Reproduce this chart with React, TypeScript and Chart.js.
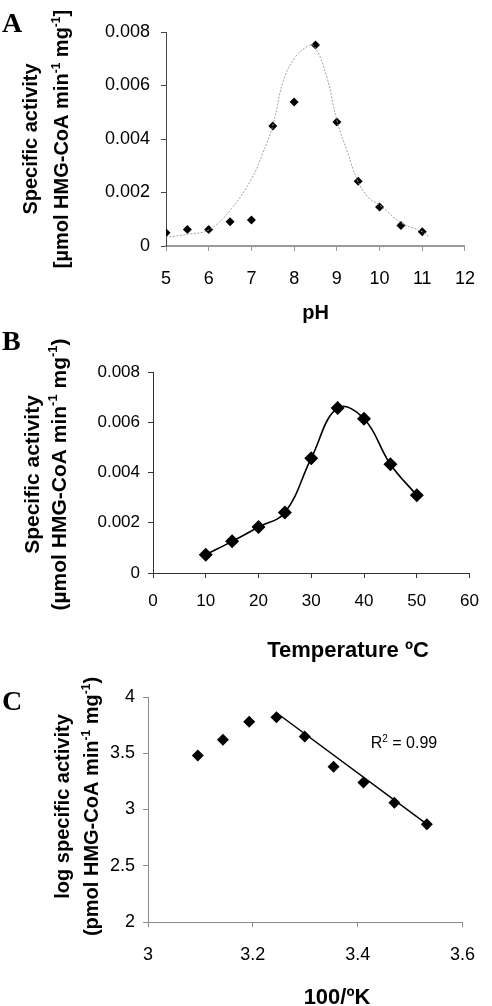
import React, { useEffect, useRef } from "react";
import { Chart, registerables } from "chart.js";

Chart.register(...registerables);

// ---------- Panel A: pH ----------
const phValues = [5, 5.5, 6, 6.5, 7, 7.5, 8, 8.5, 9, 9.5, 10, 10.5, 11];
const phActivity = [0.0005, 0.00062, 0.00062, 0.00091, 0.00097, 0.00449, 0.00538, 0.00751, 0.00464, 0.00242, 0.00146, 0.00077, 0.00053];
const phFitX = [5, 5.5, 6, 6.5, 7, 7.25, 7.5, 7.75, 8, 8.25, 8.45, 8.75, 9, 9.25, 9.5, 9.75, 10, 10.5, 11, 11.15];
const phFitY = [0.00032, 0.00044, 0.0006, 0.00133, 0.0025, 0.0034, 0.0045, 0.0062, 0.007, 0.0074, 0.0075, 0.0064, 0.0047, 0.0035, 0.0024, 0.0018, 0.00153, 0.00087, 0.00053, 0.00035];
const phTicksX = ["5", "6", "7", "8", "9", "10", "11", "12"];
const activityTicks = ["0", "0.002", "0.004", "0.006", "0.008"];

// ---------- Panel B: temperature ----------
const temperatures = [10, 15, 20, 25, 30, 35, 40, 45, 50];
const tempActivity = [0.00073, 0.00126, 0.00183, 0.00241, 0.00457, 0.00657, 0.00614, 0.00433, 0.00309];
const tempTicksX = ["0", "10", "20", "30", "40", "50", "60"];

// ---------- Panel C: Arrhenius ----------
const invTemp = [3.095, 3.143, 3.193, 3.245, 3.299, 3.354, 3.411, 3.47, 3.532];
const logActivity = [3.48, 3.62, 3.78, 3.82, 3.65, 3.38, 3.24, 3.06, 2.87];
const regressionX = [3.245, 3.532];
const regressionY = [3.86, 2.87];
const invTempTicks = ["3", "3.2", "3.4", "3.6"];
const logTicks = ["2", "2.5", "3", "3.5", "4"];
const rSquaredLabel = "0.99";

const SANS = '"Liberation Sans", Arial, Helvetica, sans-serif';
const SERIF = '"Liberation Serif", "Times New Roman", serif';

type Seg = { t: string; sup?: boolean };
type TextItem = {
  segs: Seg[];
  x: number | ((c: any) => number);
  y: number | ((c: any) => number);
  size: number;
  bold?: boolean;
  rotate?: boolean;
  align?: "left" | "center";
  family?: string;
  baseline?: boolean; // y is baseline
};

function drawItem(ctx: CanvasRenderingContext2D, chart: any, it: TextItem) {
  const fam = it.family || SANS;
  const w8 = it.bold ? "bold " : "";
  const main = `${w8}${it.size}px ${fam}`;
  const sup = `${w8}${Math.round(it.size * 0.62)}px ${fam}`;
  const x = typeof it.x === "function" ? it.x(chart) : it.x;
  const y = typeof it.y === "function" ? it.y(chart) : it.y;
  ctx.save();
  let w = 0;
  for (const s of it.segs) {
    ctx.font = s.sup ? sup : main;
    w += ctx.measureText(s.t).width;
  }
  ctx.translate(x, y);
  if (it.rotate) ctx.rotate(-Math.PI / 2);
  ctx.textBaseline = "alphabetic";
  ctx.textAlign = "left";
  ctx.fillStyle = "#000";
  let cx = it.align === "left" ? 0 : -w / 2;
  const base = it.baseline ? 0 : it.size * 0.3;
  for (const s of it.segs) {
    ctx.font = s.sup ? sup : main;
    ctx.fillText(s.t, cx, s.sup ? base - it.size * 0.42 : base);
    cx += ctx.measureText(s.t).width;
  }
  ctx.restore();
}

function overlay(id: string, items: TextItem[]) {
  return {
    id,
    afterDraw(chart: any) {
      for (const it of items) drawItem(chart.ctx, chart, it);
    },
  };
}

function unitSegs(prefix: string, open: string, close: string): Seg[] {
  return [
    { t: `${open}${prefix} HMG-CoA min` },
    { t: "-1", sup: true },
    { t: " mg" },
    { t: "-1", sup: true },
    { t: close },
  ];
}

function axisStyle(color: string, width: number, tickColor: string) {
  return {
    grid: { drawOnChartArea: false, drawTicks: true, tickLength: 5, color: tickColor, tickColor, lineWidth: 1 },
    border: { display: true, color, width },
  };
}

function labelFrom(list: string[], min: number, step: number) {
  return (v: any) => {
    const i = Math.round((Number(v) - min) / step);
    return list[i] !== undefined ? list[i] : "";
  };
}

function buildA(): any {
  const cA = (c: any) => (c.chartArea.top + c.chartArea.bottom) / 2;
  return {
    type: "line",
    data: {
      datasets: [
        {
          label: "fit",
          data: phFitX.map((x, i) => ({ x, y: phFitY[i] })),
          borderColor: "#a0a0a0",
          borderWidth: 1,
          borderDash: [2, 1.5],
          pointRadius: 0,
          tension: 0.4,
          fill: false,
        },
        {
          label: "pH",
          data: phValues.map((x, i) => ({ x, y: phActivity[i] })),
          showLine: false,
          pointStyle: "rectRot",
          pointRadius: 4.5,
          pointBackgroundColor: "#000",
          pointBorderColor: "#000",
          pointBorderWidth: 0,
        },
      ],
    },
    options: {
      animation: false,
      responsive: false,
      devicePixelRatio: 1,
      layout: { padding: { left: 0, right: 12, top: 32, bottom: 0 } },
      plugins: { legend: { display: false }, tooltip: { enabled: false } },
      scales: {
        x: {
          type: "linear",
          min: 5,
          max: 12,
          ...axisStyle("#9a9a9a", 2, "#9a9a9a"),
          ticks: { stepSize: 1, padding: 17, color: "#000", font: { family: SANS, size: 18 }, maxRotation: 0, callback: labelFrom(phTicksX, 5, 1) },
          afterFit: (s: any) => { s.height = 84; },
        },
        y: {
          type: "linear",
          min: 0,
          max: 0.008,
          ...axisStyle("#444", 1, "#444"),
          ticks: { stepSize: 0.002, padding: 11, color: "#000", font: { family: SANS, size: 18 }, callback: labelFrom(activityTicks, 0, 0.002) },
          afterFit: (s: any) => { s.width = 166; },
        },
      },
    },
    plugins: [
      overlay("ovA", [
        { segs: [{ t: "A" }], x: 2, y: 32, size: 28, bold: true, align: "left", family: SERIF, baseline: true },
        { segs: [{ t: "Specific activity" }], x: 31, y: cA, size: 20, bold: true, rotate: true },
        { segs: unitSegs("µmol", "[", "]"), x: 62, y: cA, size: 20, bold: true, rotate: true },
        { segs: [{ t: "pH" }], x: (c: any) => (c.chartArea.left + c.chartArea.right) / 2, y: 313, size: 20, bold: true },
      ]),
    ],
  };
}

function buildB(): any {
  const cB = (c: any) => (c.chartArea.top + c.chartArea.bottom) / 2 + 2;
  return {
    type: "line",
    data: {
      datasets: [
        {
          label: "temperature",
          data: temperatures.map((x, i) => ({ x, y: tempActivity[i] })),
          borderColor: "#000",
          borderWidth: 1.6,
          tension: 0.4,
          fill: false,
          pointStyle: "rectRot",
          pointRadius: 7,
          pointBackgroundColor: "#000",
          pointBorderColor: "#000",
          pointBorderWidth: 0,
        },
      ],
    },
    options: {
      animation: false,
      responsive: false,
      devicePixelRatio: 1,
      layout: { padding: { left: 0, right: 10, top: 42, bottom: 0 } },
      plugins: { legend: { display: false }, tooltip: { enabled: false } },
      scales: {
        x: {
          type: "linear",
          min: 0,
          max: 60,
          ...axisStyle("#333", 1, "#333"),
          ticks: { stepSize: 10, padding: 13, color: "#000", font: { family: SANS, size: 17 }, maxRotation: 0, callback: labelFrom(tempTicksX, 0, 10) },
          afterFit: (s: any) => { s.height = 97; },
        },
        y: {
          type: "linear",
          min: 0,
          max: 0.008,
          ...axisStyle("#333", 1, "#333"),
          ticks: { stepSize: 0.002, padding: 8, color: "#000", font: { family: SANS, size: 17 }, callback: labelFrom(activityTicks, 0, 0.002) },
          afterFit: (s: any) => { s.width = 153; },
        },
      },
    },
    plugins: [
      overlay("ovB", [
        { segs: [{ t: "B" }], x: 2, y: 20, size: 28, bold: true, align: "left", family: SERIF, baseline: true },
        { segs: [{ t: "Specific activity" }], x: 33, y: cB, size: 21, bold: true, rotate: true },
        { segs: unitSegs("µmol", "(", ")"), x: 60, y: cB, size: 21, bold: true, rotate: true },
        { segs: [{ t: "Temperature ºC" }], x: 348, y: 320, size: 22, bold: true },
      ]),
    ],
  };
}

function buildC(): any {
  const cC = (c: any) => (c.chartArea.top + c.chartArea.bottom) / 2 - 3;
  return {
    type: "line",
    data: {
      datasets: [
        {
          label: "regression",
          data: regressionX.map((x, i) => ({ x, y: regressionY[i] })),
          borderColor: "#000",
          borderWidth: 1.5,
          pointRadius: 0,
          tension: 0,
          fill: false,
        },
        {
          label: "log activity",
          data: invTemp.map((x, i) => ({ x, y: logActivity[i] })),
          showLine: false,
          pointStyle: "rectRot",
          pointRadius: 6,
          pointBackgroundColor: "#000",
          pointBorderColor: "#000",
          pointBorderWidth: 0,
        },
      ],
    },
    options: {
      animation: false,
      responsive: false,
      devicePixelRatio: 1,
      layout: { padding: { left: 0, right: 26, top: 27, bottom: 0 } },
      plugins: { legend: { display: false }, tooltip: { enabled: false } },
      scales: {
        x: {
          type: "linear",
          min: 3,
          max: 3.6,
          ...axisStyle("#8a8a8a", 1, "#8a8a8a"),
          ticks: { stepSize: 0.2, padding: 17, color: "#000", font: { family: SANS, size: 18 }, maxRotation: 0, callback: labelFrom(invTempTicks, 3, 0.2) },
          afterFit: (s: any) => { s.height = 84; },
        },
        y: {
          type: "linear",
          min: 2,
          max: 4,
          ...axisStyle("#8a8a8a", 1, "#8a8a8a"),
          ticks: { stepSize: 0.5, padding: 8, color: "#000", font: { family: SANS, size: 18 }, callback: labelFrom(logTicks, 2, 0.5) },
          afterFit: (s: any) => { s.width = 148; },
        },
      },
    },
    plugins: [
      overlay("ovC", [
        { segs: [{ t: "C" }], x: 2, y: 40, size: 28, bold: true, align: "left", family: SERIF, baseline: true },
        { segs: [{ t: "log specific activity" }], x: 63, y: cC, size: 20, bold: true, rotate: true },
        { segs: unitSegs("pmol", "(", ")"), x: 92, y: cC, size: 20, bold: true, rotate: true },
        { segs: [{ t: "100/ºK" }], x: 337, y: 327, size: 22, bold: true },
        {
          segs: [{ t: "R" }, { t: "2", sup: true }, { t: " = " + rSquaredLabel }],
          x: (c: any) => c.scales.x.getPixelForValue(3.425),
          y: (c: any) => c.scales.y.getPixelForValue(3.585),
          size: 16,
          align: "left",
        },
      ]),
    ],
  };
}

function Panel({ top, height, build }: { top: number; height: number; build: () => any }) {
  const ref = useRef<HTMLCanvasElement>(null);
  useEffect(() => {
    if (!ref.current) return;
    const chart = new Chart(ref.current, build());
    return () => chart.destroy();
  }, [build]);
  return (
    <canvas
      ref={ref}
      width={492}
      height={height}
      style={{ position: "absolute", left: 0, top, width: 492, height, display: "block" }}
    />
  );
}

export default function App() {
  return (
    <div style={{ position: "absolute", left: 0, top: 0, width: 492, height: 1006, background: "#fff", overflow: "hidden" }}>
      <Panel top={0} height={330} build={buildA} />
      <Panel top={330} height={340} build={buildB} />
      <Panel top={670} height={336} build={buildC} />
    </div>
  );
}
